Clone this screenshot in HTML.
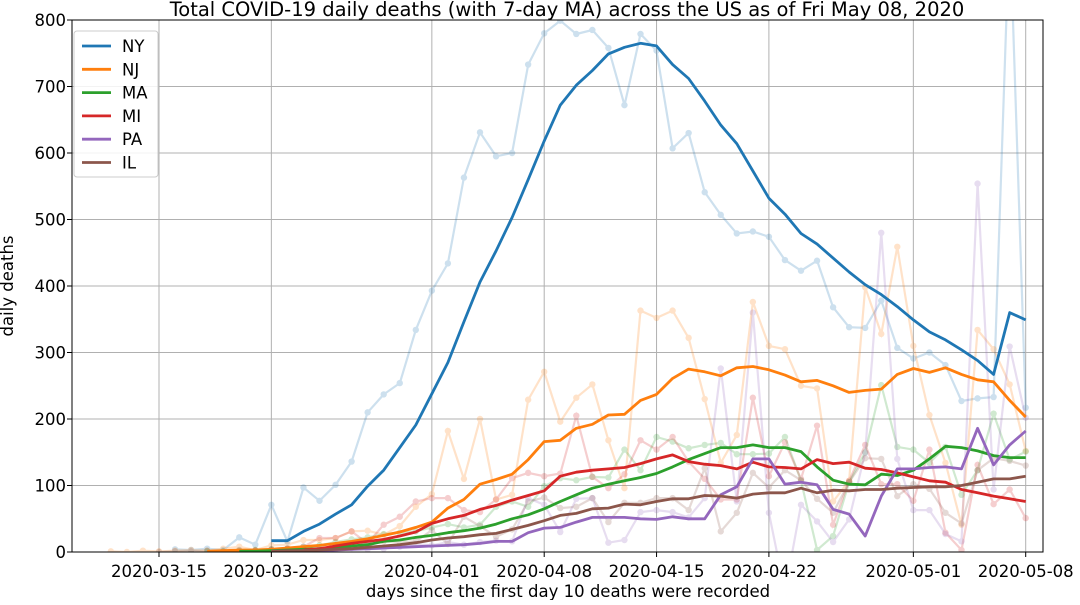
<!DOCTYPE html>
<html><head><meta charset="utf-8"><style>
body{margin:0;background:#fff}
svg{font-family:"DejaVu Sans","Liberation Sans",sans-serif}
</style></head><body>
<svg id="chart" width="1080" height="600" viewBox="0 0 1080 600" xmlns="http://www.w3.org/2000/svg">
<defs><clipPath id="plotclip"><rect x="72" y="20" width="971" height="532"/></clipPath></defs>
<rect x="0" y="0" width="1080" height="600" fill="#fff"/>
<text x="567" y="16" text-anchor="middle" font-size="19.5" fill="#000">Total COVID-19 daily deaths (with 7-day MA) across the US as of Fri May 08, 2020</text>
<g id="grid"></g>
<g id="series" clip-path="url(#plotclip)"></g>
<rect x="72" y="20" width="971" height="532" fill="none" stroke="#000" stroke-width="1"/>
<g id="axes"></g>
<text x="568" y="597" text-anchor="middle" font-size="16.5">days since the first day 10 deaths were recorded</text>
<text transform="translate(13,286) rotate(-90)" text-anchor="middle" font-size="16.5">daily deaths</text>
<g id="legend"></g>
</svg>
<script>
const N=null;
const states=["NY","NJ","MA","MI","PA","IL"];
const colors=["#1f77b4","#ff7f0e","#2ca02c","#d62728","#9467bd","#8c564b"];
const xTickLabels=["2020-03-15","2020-03-22","2020-04-01","2020-04-08","2020-04-15","2020-04-22","2020-05-01","2020-05-08"];
const xTickDays=[3,10,20,27,34,41,50,57];
const yTicks=[0,100,200,300,400,500,600,700,800];
const nyDaily=[N,N,N,N,4,3,5,3,22,11,71,16,97,77,101,136,210,237,254,334,393,434,563,631,595,600,733,780,799,779,785,758,672,779,754,607,630,541,507,479,482,474,439,423,438,368,338,337,378,307,291,300,281,227,231,233,950,217];
const nyMA=[N,N,N,N,N,N,N,N,N,N,17,17,31,42,57,71,99,123,157,191,238,285,346,406,453,503,560,618,672,702,724,749,759,765,761,733,712,678,642,614,573,532,508,479,463,442,421,402,387,369,349,331,319,304,288,267,360,349];
const njDaily=[1,0,2,1,2,3,2,5,8,3,10,11,18,18,21,31,32,26,39,68,87,182,110,200,79,86,229,271,196,232,252,168,96,363,352,363,322,230,134,176,376,310,305,250,246,76,107,398,328,459,310,206,134,41,334,305,252,152];
const njMA=[N,N,N,N,N,N,1,2,3,3,4,6,8,10,13,16,20,25,30,37,45,66,79,102,109,117,139,166,168,186,192,206,207,228,237,261,275,271,265,277,279,274,266,256,258,250,240,243,245,267,276,270,277,267,259,256,228,203];
const maDaily=[N,N,N,N,N,N,1,1,2,3,4,5,8,10,15,19,22,27,29,31,37,42,37,41,68,76,68,99,111,108,113,112,154,123,173,166,156,161,164,147,147,148,173,107,3,24,105,150,251,158,154,134,158,86,123,208,139,151];
const maMA=[N,N,N,N,N,N,N,N,1,1,2,3,4,5,7,9,11,16,18,22,25,29,32,36,42,50,56,65,76,86,96,102,107,112,118,128,139,148,157,157,161,157,157,151,128,108,102,101,117,115,123,140,159,157,152,145,142,142];
const miDaily=[N,N,N,N,N,N,N,N,1,2,3,5,8,21,21,31,13,41,53,76,81,81,63,60,79,111,119,114,118,205,113,96,117,168,154,173,136,110,79,79,232,114,165,110,190,41,107,161,102,102,77,154,29,3,131,72,94,51];
const miMA=[N,N,N,N,N,N,N,N,N,N,N,N,3,5,9,13,16,19,24,30,43,50,55,64,70,78,85,92,114,120,123,125,127,133,140,146,136,132,130,125,135,128,127,125,139,133,135,126,124,119,113,107,105,94,89,84,80,76];
const paDaily=[N,N,N,N,N,N,N,N,N,N,1,2,3,2,4,6,4,5,8,12,10,15,11,15,17,16,81,71,30,80,81,14,18,60,63,60,52,81,276,76,360,59,-60,71,46,15,49,149,480,140,63,63,27,16,554,94,309,202];
const paMA=[N,N,N,N,N,N,N,N,N,N,1,1,2,2,3,4,5,6,7,8,9,10,11,13,16,16,29,36,37,45,52,52,52,50,49,53,50,50,86,98,140,140,102,105,101,64,57,24,84,125,125,127,128,125,186,131,161,182];
const ilDaily=[N,N,N,0,1,1,2,1,3,2,4,5,3,6,8,10,12,16,15,16,33,12,53,39,23,34,76,82,66,68,81,45,74,74,81,81,63,126,31,59,119,97,123,108,80,59,105,141,140,84,102,95,59,43,123,141,137,130];
const ilMA=[N,N,N,N,N,N,N,N,N,N,1,2,2,3,4,5,7,9,11,14,18,21,23,26,28,34,40,47,55,58,65,66,72,71,76,80,80,85,84,81,87,89,89,96,89,93,92,94,94,96,97,98,98,100,105,110,110,114];

const dailyAll=[nyDaily,njDaily,maDaily,miDaily,paDaily,ilDaily];
const maAll=[nyMA,njMA,maMA,miMA,paMA,ilMA];
const X0=159, DX=16.05, Y0=552, KY=0.665;
function xs(i){return X0+(i-3)*DX;}
function ys(v){return Y0-v*KY;}
const NS="http://www.w3.org/2000/svg";
function mk(tag,attrs,parent){const e=document.createElementNS(NS,tag);for(const k in attrs)e.setAttribute(k,attrs[k]);parent.appendChild(e);return e;}
const grid=document.getElementById('grid'),axes=document.getElementById('axes'),series=document.getElementById('series'),legend=document.getElementById('legend');
yTicks.forEach(v=>{
  const g=mk('line',{x1:72,x2:1043,y1:ys(v),y2:ys(v),stroke:'#b0b0b0','stroke-width':1},grid);
  
  
  const t=mk('line',{x1:67,x2:72,y1:ys(v),y2:ys(v),stroke:'#000'},axes);
  
  
  const l=mk('text',{x:66,y:ys(v)+6,'text-anchor':'end','font-size':16.5},axes);
  l.textContent=v;
  
  
});
xTickDays.forEach((d,k)=>{
  const g=mk('line',{x1:xs(d),x2:xs(d),y1:20,y2:552,stroke:'#b0b0b0','stroke-width':1},grid);
  
  
  const t=mk('line',{x1:xs(d),x2:xs(d),y1:552,y2:557,stroke:'#000'},axes);
  
  
  const l=mk('text',{x:xs(d),y:577,'text-anchor':'middle','font-size':16.5},axes);
  l.textContent=xTickLabels[k];
  
  
});
function pathOf(arr){let d='',pen=false;arr.forEach((v,i)=>{if(v===null){pen=false;return;}d+=(pen?'L':'M')+xs(i).toFixed(1)+','+ys(v).toFixed(1);pen=true;});return d;}
dailyAll.forEach((arr,s)=>{
  const g=mk('g',{opacity:0.22},series);
  
  
  const p=mk('path',{d:pathOf(arr),fill:'none',stroke:colors[s],'stroke-width':2.2},g);
  
  
  arr.forEach((v,i)=>{if(v===null)return;
    const c=mk('circle',{cx:xs(i),cy:ys(v),r:3.2,fill:colors[s]},g);
    
    
  });
});
maAll.forEach((arr,s)=>{
  const p=mk('path',{d:pathOf(arr),fill:'none',stroke:colors[s],'stroke-width':2.8,'stroke-linejoin':'round'},series);
  
  
});
const box=mk('rect',{x:74,y:31,width:84,height:146,rx:3,fill:'#fff','fill-opacity':0.85,stroke:'#ccc'},legend);


states.forEach((s,k)=>{
  const y=46+k*23.3;
  const g=mk('g',{},legend);
  
  
  mk('line',{x1:82,x2:111,y1:y,y2:y,stroke:colors[k],'stroke-width':2.8},g);
  const t=mk('text',{x:122,y:y+6,'font-size':16.5},g);
  t.textContent=s;
});
</script>
</body></html>
